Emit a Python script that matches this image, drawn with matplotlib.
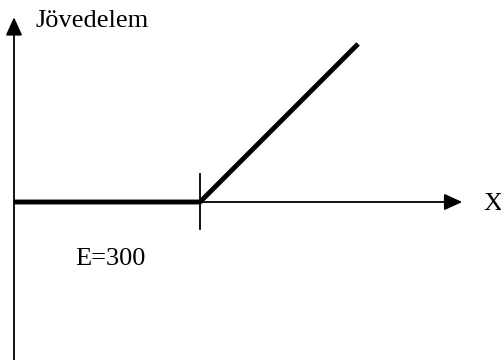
import matplotlib.pyplot as plt

# income curve: zero up to the threshold E, then rising one-for-one
E = 300
xs = [0, E, 555]
ys = [0, 0, 255]

px = 0.62  # pixels per unit

fig = plt.figure(figsize=(5.02, 3.60), dpi=100)
ax = fig.add_axes([0, 0, 1, 1])
ax.set_xlim(-14 / px, (502 - 14) / px)
ax.set_ylim(-158 / px, 202 / px)
ax.axis('off')

plt.rcParams['font.family'] = ['Liberation Serif', 'DejaVu Serif']

arrow = dict(arrowstyle='-|>,head_length=1.1,head_width=0.5', lw=1.3, color='black',
             shrinkA=0, shrinkB=0)
ax.annotate('', xy=(0, 298), xytext=(0, -160 / px), arrowprops=arrow)
ax.annotate('', xy=(723, 0), xytext=(0, 0), arrowprops=arrow)

# tick mark at E
ax.plot([E, E], [28 / px, -27 / px], color='black', lw=1.3)

ax.plot(xs, ys, color='black', lw=3.5, solid_capstyle='butt')

ax.text(21 / px, 175 / px, 'Jövedelem', fontsize=19, ha='left', va='baseline')
ax.text(469 / px, -8 / px, 'X', fontsize=19, ha='left', va='baseline')
ax.text(61 / px, -63 / px, 'E=300', fontsize=19, ha='left', va='baseline')

fig.savefig('out.png', dpi=100)
